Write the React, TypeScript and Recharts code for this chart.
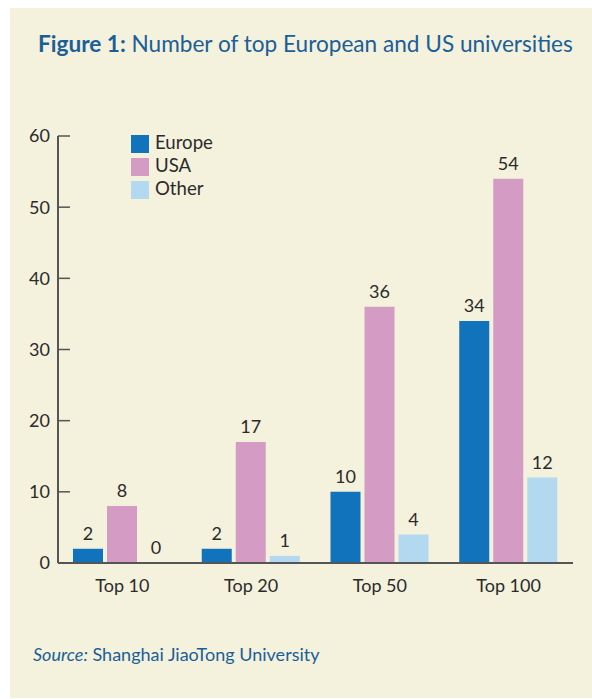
import { Bar, BarChart, LabelList, Legend, XAxis, YAxis } from 'recharts'

const categories = ['Top 10', 'Top 20', 'Top 50', 'Top 100']
const seriesNames = ['Europe', 'USA', 'Other']
const europe = [2, 2, 10, 34]
const usa = [8, 17, 36, 54]
const other = [0, 1, 4, 12]
const yTicks = [0, 10, 20, 30, 40, 50, 60]
// group boundaries, in category units, for the small upward ticks on the x axis
const groupEdges = [1, 2, 3, 4]

const data = categories.map((name, i) => ({
	name,
	Europe: europe[i],
	USA: usa[i],
	Other: other[i],
}))

const font = 'Lato, "Open Sans", sans-serif'
const ink = '#2b2b2b'
const axisColor = '#555'
const blue = '#1a5f98'

const labelText = (v: unknown) => `${v}`
// a zero bar has no height and loses its label; keep a sliver so "0" is still printed
const keepZero = (v: unknown) => (v === 0 ? 0.5 : 0)

export default function App() {
	return (
		<div
			style={{
				position: 'absolute',
				left: 10,
				top: 8,
				width: 582,
				height: 690,
				background: '#f4f1dd',
				fontFamily: font,
			}}
		>
			<div
				style={{
					position: 'absolute',
					left: 28,
					top: 22,
					fontSize: 22.6,
					color: blue,
					whiteSpace: 'nowrap',
				}}
			>
				<b>Figure 1:</b> Number of top European and US universities
			</div>

			<BarChart
				width={582}
				height={620}
				data={data}
				margin={{ top: 128, right: 19, bottom: 63, left: 8 }}
				barCategoryGap={15}
				barGap={4}
				style={{ position: 'absolute', left: 0, top: 0 }}
			>
				<XAxis
					xAxisId="cat"
					dataKey="name"
					height={1}
					tickLine={false}
					tickMargin={10}
					axisLine={{ stroke: axisColor, strokeWidth: 2 }}
					tick={{ fill: ink, fontSize: 18, fontFamily: font }}
				/>
				<XAxis
					xAxisId="edges"
					type="number"
					domain={[0, 4]}
					ticks={groupEdges}
					allowDataOverflow
					height={1}
					axisLine={false}
					tick={false}
					tickSize={-10}
					tickLine={{ stroke: axisColor, strokeWidth: 1.5 }}
				/>
				<YAxis
					width={40}
					domain={[0, 60]}
					ticks={yTicks}
					interval={0}
					tickSize={-12}
					tickMargin={20}
					axisLine={{ stroke: axisColor, strokeWidth: 2 }}
					tickLine={{ stroke: axisColor, strokeWidth: 1.5 }}
					tick={{ fill: ink, fontSize: 18, fontFamily: font }}
				/>
				<Legend
					layout="vertical"
					align="center"
					verticalAlign="middle"
					iconType="square"
					iconSize={18}
					itemSorter={(item: any) => seriesNames.indexOf(item.value)}
					wrapperStyle={{
						top: 123,
						left: 121,
						width: 120,
						height: 72,
						fontSize: 18.6,
						lineHeight: '23px',
						fontFamily: font,
					}}
					formatter={(value) => <span style={{ color: ink, marginLeft: 2 }}>{value}</span>}
				/>
				<Bar xAxisId="cat" dataKey="Europe" fill="#1173bb" isAnimationActive={false}>
					<LabelList dataKey="Europe" position="top" offset={9} fill={ink} fontSize={18} fontFamily={font} formatter={labelText} />
				</Bar>
				<Bar xAxisId="cat" dataKey="USA" fill="#d49bc5" isAnimationActive={false}>
					<LabelList dataKey="USA" position="top" offset={9} fill={ink} fontSize={18} fontFamily={font} formatter={labelText} />
				</Bar>
				<Bar xAxisId="cat" dataKey="Other" fill="#b3d9f1" minPointSize={keepZero} isAnimationActive={false}>
					<LabelList dataKey="Other" position="top" offset={9} fill={ink} fontSize={18} fontFamily={font} formatter={labelText} />
				</Bar>
			</BarChart>

			<div
				style={{
					position: 'absolute',
					left: 23,
					top: 635,
					fontSize: 18,
					color: blue,
					whiteSpace: 'nowrap',
				}}
			>
				<i>Source:</i> Shanghai JiaoTong University
			</div>
		</div>
	)
}
